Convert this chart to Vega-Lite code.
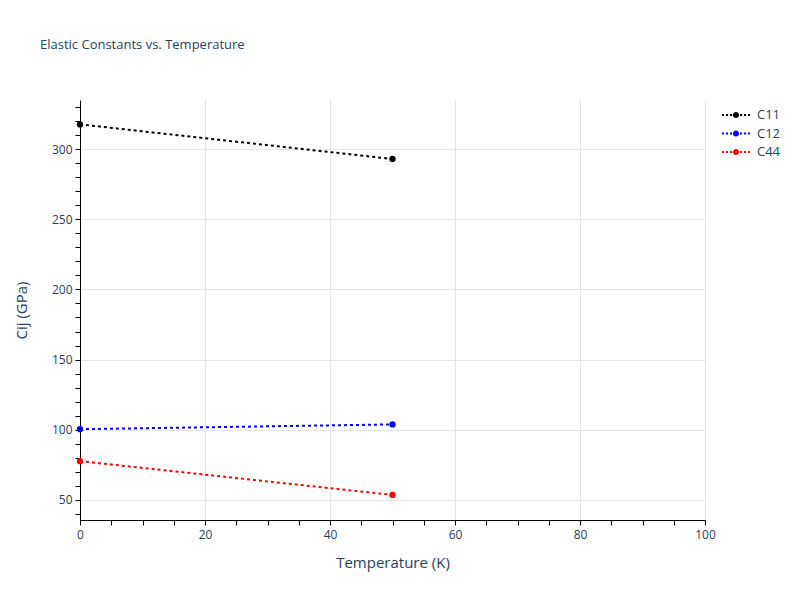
{
  "$schema": "https://vega.github.io/schema/vega-lite/v6.json",
  "width": 625,
  "height": 420,
  "autosize": {"type": "none"},
  "padding": {"left": 80, "top": 100, "right": 95, "bottom": 80},
  "background": "white",
  "config": {
    "font": "Open Sans",
    "view": {"stroke": null},
    "axis": {
      "labelColor": "#2a3f5f",
      "titleColor": "#2a3f5f",
      "labelFont": "Open Sans",
      "titleFont": "Open Sans",
      "labelFontSize": 12,
      "titleFontSize": 15,
      "titleFontWeight": "normal",
      "domainColor": "black",
      "tickColor": "black",
      "tickSize": 5,
      "domainWidth": 1,
      "labelFlush": false,
      "labelOverlap": false
    }
  },
  "title": {
    "text": "Elastic Constants vs. Temperature",
    "anchor": "start",
    "frame": "group",
    "dx": -40,
    "offset": 48,
    "fontSize": 13,
    "fontWeight": "normal",
    "font": "Open Sans",
    "color": "#2a3f5f"
  },
  "data": {
    "values": [
      {"series": "C11", "T": 0, "Cij": 317.8},
      {"series": "C11", "T": 50, "Cij": 293.1},
      {"series": "C12", "T": 0, "Cij": 100.3},
      {"series": "C12", "T": 50, "Cij": 103.7},
      {"series": "C44", "T": 0, "Cij": 77.5},
      {"series": "C44", "T": 50, "Cij": 53.4}
    ]
  },
  "encoding": {
    "x": {
      "field": "T",
      "type": "quantitative",
      "scale": {"domain": [0, 100], "nice": false, "zero": false},
      "axis": {
        "title": "Temperature (K)",
        "values": [0,5,10,15,20,25,30,35,40,45,50,55,60,65,70,75,80,85,90,95,100],
        "labelExpr": "datum.value % 20 === 0 ? datum.label : ''",
        "grid": true,
        "gridColor": "#e5e5e5",
        "gridOpacity": {"condition": {"test": "datum.value % 20 === 0 && datum.value > 0", "value": 1}, "value": 0},
        "labelPadding": 4,
        "titlePadding": 15
      }
    },
    "y": {
      "field": "Cij",
      "type": "quantitative",
      "scale": {"domain": [35.5, 335.2], "nice": false, "zero": false},
      "axis": {
        "title": "Cij (GPa)",
        "values": [40,50,60,70,80,90,100,110,120,130,140,150,160,170,180,190,200,210,220,230,240,250,260,270,280,290,300,310,320,330],
        "labelExpr": "datum.value % 50 === 0 ? datum.label : ''",
        "grid": true,
        "gridColor": "#e5e5e5",
        "gridOpacity": {"condition": {"test": "datum.value % 50 === 0", "value": 1}, "value": 0},
        "labelPadding": 3,
        "titlePadding": 22
      }
    }
  },
  "layer": [
    {
      "mark": {"type": "line", "strokeWidth": 2, "strokeDash": [3, 3]},
      "encoding": {
        "stroke": {
          "field": "series",
          "type": "nominal",
          "scale": {"domain": ["C11", "C12", "C44"], "range": ["black", "blue", "red"]},
          "legend": null
        }
      }
    },
    {
      "mark": {"type": "point", "filled": true, "size": 40, "opacity": 1},
      "encoding": {
        "fill": {
          "field": "series",
          "type": "nominal",
          "scale": {"domain": ["C11", "C12", "C44"], "range": ["black", "blue", "red"]},
          "legend": {
            "title": null,
            "orient": "none",
            "legendX": 649,
            "legendY": 8,
            "padding": 0,
            "symbolType": "M-2,-0.14h0.3v0.28h-0.3z M-1.43,-0.14h0.3v0.28h-0.3z M-0.86,-0.14h0.3v0.28h-0.3z M0.57,-0.14h0.3v0.28h-0.3z M1.14,-0.14h0.3v0.28h-0.3z M1.71,-0.14h0.3v0.28h-0.3z M-0.43,0a0.43,0.43 0 1,0 0.86,0a0.43,0.43 0 1,0 -0.86,0z",
            "symbolSize": 196,
            "symbolStrokeWidth": 0,
            "labelOffset": 14,
            "labelFontSize": 13,
            "labelColor": "#2a3f5f",
            "labelFont": "Open Sans",
            "rowPadding": 4.5
          }
        }
      }
    }
  ],
  "resolve": {"scale": {"fill": "independent", "stroke": "independent"}}
}
